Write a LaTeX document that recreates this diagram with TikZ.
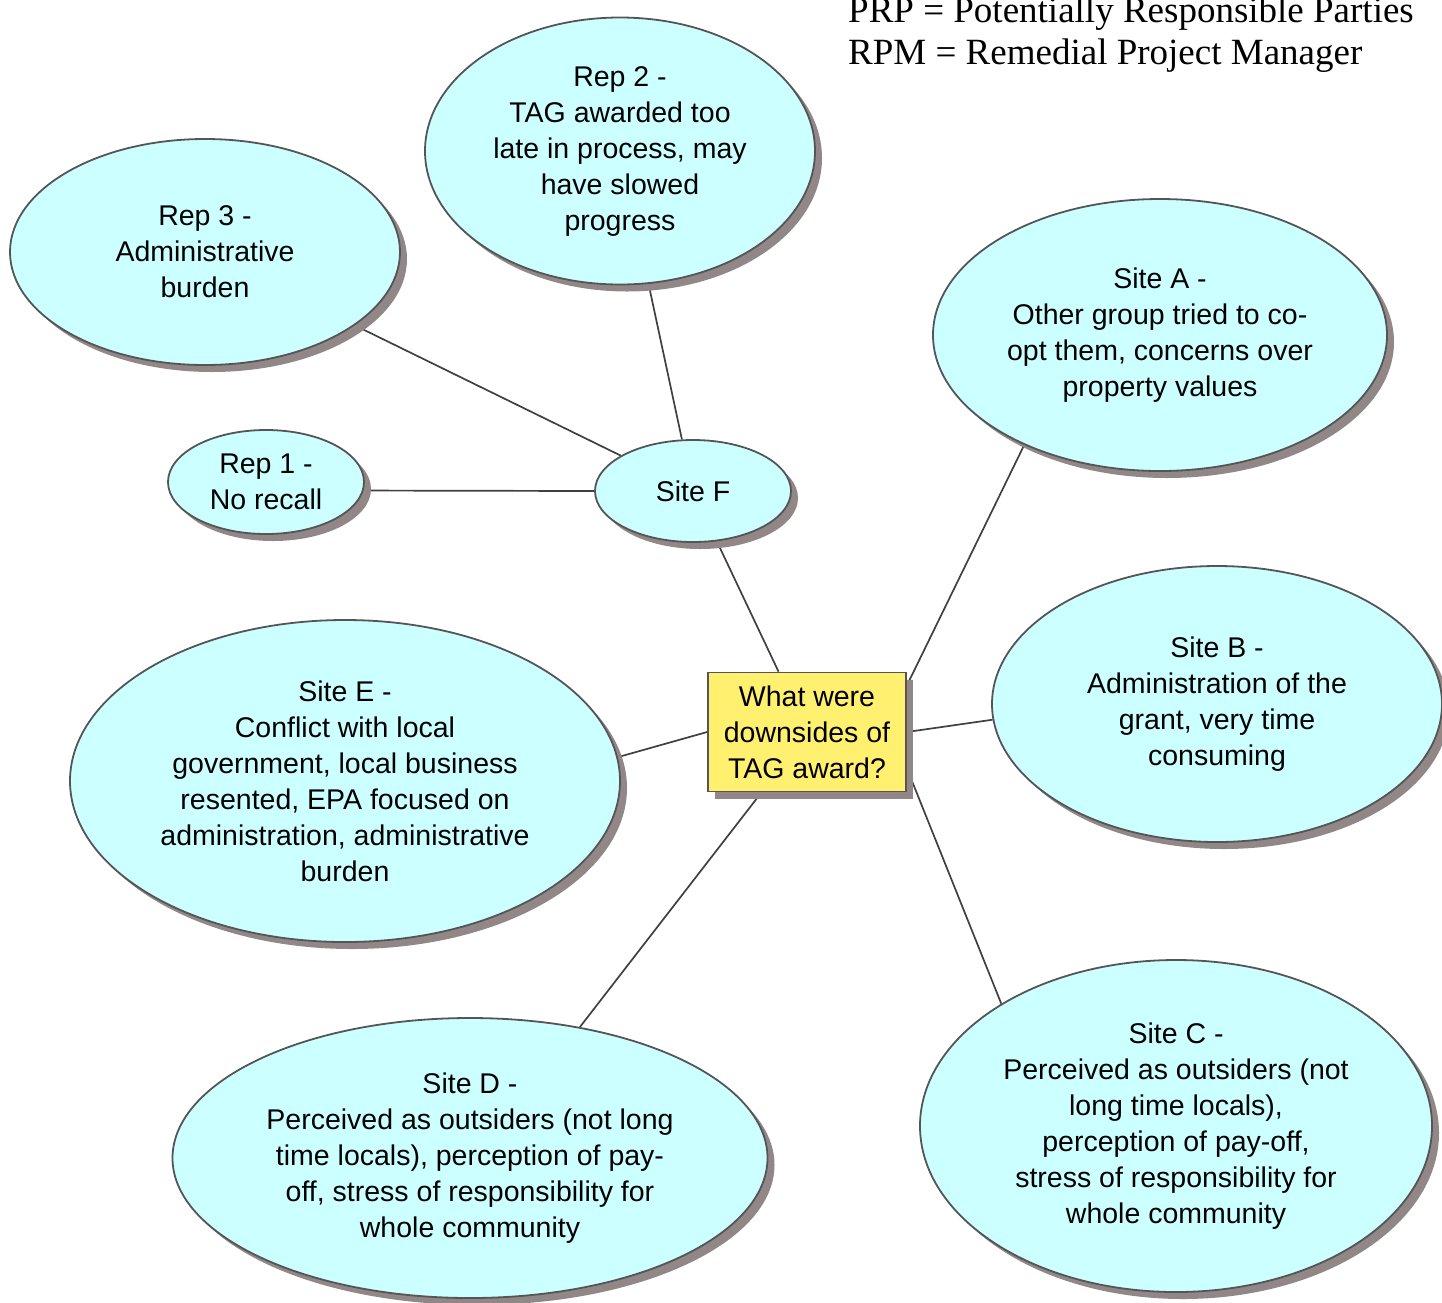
\documentclass[tikz,border=0pt]{standalone}
\usepackage{fontspec}
\setmainfont{Liberation Sans}
\newfontfamily\legendfont{Liberation Serif}
\usetikzlibrary{shapes.geometric,shadows,backgrounds}
\definecolor{bubble}{RGB}{204,255,255}
\definecolor{question}{RGB}{255,240,112}
\definecolor{rim}{RGB}{85,85,85}
\definecolor{shade}{RGB}{145,135,135}
\definecolor{wire}{RGB}{64,64,64}
\tikzset{
  shadowed/.style={drop shadow={shadow xshift=7pt, shadow yshift=-7pt, fill=shade, opacity=1}},
  bubblenode/.style={ellipse, draw=rim, line width=1.8pt, fill=bubble, inner sep=0pt,
    align=center, font=\fontsize{28.5}{36}\selectfont, shadowed},
  hubnode/.style={rectangle, draw=rim, line width=1.8pt, fill=question, inner sep=0pt,
    minimum width=198pt, minimum height=119pt, align=center,
    font=\fontsize{28.5}{36}\selectfont, shadowed},
  link/.style={draw=wire, line width=1.7pt},
  legendtext/.style={anchor=base west, inner sep=0pt, font=\legendfont\fontsize{37}{42}\selectfont}
}
\begin{document}
\begin{tikzpicture}[x=1pt, y=-1pt]
\useasboundingbox (0,0) rectangle (1442,1302);

% central question
\node[hubnode] (hub) at (807,732) {What were\\downsides of\\TAG award?};

% answer bubbles
\node[bubblenode, minimum width=196pt, minimum height=102pt] (siteF) at (693,491) {Site F};
\node[bubblenode, minimum width=390pt, minimum height=267pt] (rep2) at (620,151)
  {Rep 2 -\\TAG awarded too\\late in process, may\\have slowed\\progress};
\node[bubblenode, minimum width=390pt, minimum height=226pt] (rep3) at (205,252)
  {Rep 3 -\\Administrative\\burden};
\node[bubblenode, minimum width=196pt, minimum height=104pt] (rep1) at (266,482)
  {Rep 1 -\\No recall};
\node[bubblenode, minimum width=454pt, minimum height=272pt] (siteA) at (1160,335)
  {Site A -\\Other group tried to co-\\opt them, concerns over\\property values};
\node[bubblenode, minimum width=450pt, minimum height=276pt] (siteB) at (1217,704)
  {Site B -\\Administration of the\\grant, very time\\consuming};
\node[bubblenode, minimum width=550pt, minimum height=322pt] (siteE) at (345,781)
  {Site E -\\Conflict with local\\government, local business\\resented, EPA focused on\\administration, administrative\\burden};
\node[bubblenode, minimum width=595pt, minimum height=280pt] (siteD) at (470,1158)
  {Site D -\\Perceived as outsiders (not long\\time locals), perception of pay-\\off, stress of responsibility for\\whole community};
\node[bubblenode, minimum width=512pt, minimum height=332pt] (siteC) at (1176,1126)
  {Site C -\\Perceived as outsiders (not\\long time locals),\\perception of pay-off,\\stress of responsibility for\\whole community};

% connectors
\begin{scope}[on background layer]
  \draw[link] (siteF) -- (rep2);
  \draw[link] (siteF) -- (rep3);
  \draw[link] (rep1.-5) -- (siteF.west);
  \draw[link] (siteF) -- (hub);
  \draw[link] (hub.25) -- (siteA.219.5);
  \draw[link] (hub.east) -- (siteB.184.6);
  \draw[link] (hub.-20) -- (siteC.145.5);
  \draw[link] (hub.233.7) -- (siteD.50);
  \draw[link] (hub.west) -- (siteE.5.5);
\end{scope}

% abbreviations
\node[legendtext] (prp) at (848,22) {PRP = Potentially Responsible Parties};
\node[legendtext] (rpm) at (848,64) {RPM = Remedial Project Manager};
\end{tikzpicture}
\end{document}
